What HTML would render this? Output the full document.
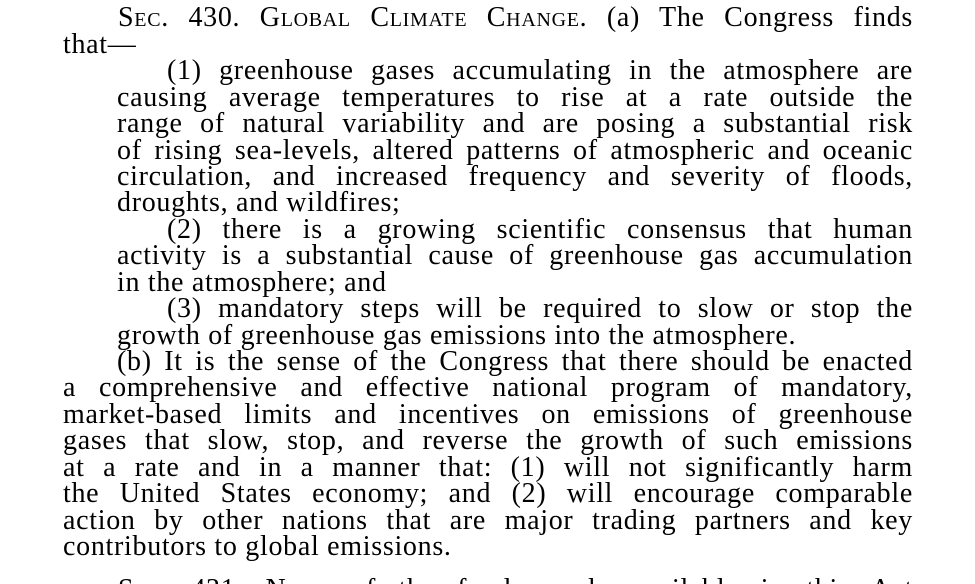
<!DOCTYPE html>
<html><head><meta charset="utf-8"><style>
html,body{margin:0;padding:0;background:#fff;width:975px;height:584px;overflow:hidden;}
body{position:relative;font-family:"Liberation Serif",serif;font-size:28px;letter-spacing:0.7px;color:#000;}
.l{position:absolute;right:62px;height:30px;line-height:30px;white-space:nowrap;text-align:justify;text-align-last:justify;}
.n{text-align-last:left;}
.sc{font-variant:small-caps;}
</style></head><body>
<div class="l" style="left:118px;top:3px">S<span class="sc">ec</span>. 430. G<span class="sc">lobal</span> C<span class="sc">limate</span> C<span class="sc">hange</span>. (a) The Congress finds</div>
<div class="l n" style="left:63px;top:30px">that—</div>
<div class="l" style="left:167px;top:56px">(1) greenhouse gases accumulating in the atmosphere are</div>
<div class="l" style="left:117px;top:83px">causing average temperatures to rise at a rate outside the</div>
<div class="l" style="left:117px;top:109px">range of natural variability and are posing a substantial risk</div>
<div class="l" style="left:117px;top:136px">of rising sea-levels, altered patterns of atmospheric and oceanic</div>
<div class="l" style="left:117px;top:162px">circulation, and increased frequency and severity of floods,</div>
<div class="l n" style="left:117px;top:188px">droughts, and wildfires;</div>
<div class="l" style="left:167px;top:215px">(2) there is a growing scientific consensus that human</div>
<div class="l" style="left:117px;top:241px">activity is a substantial cause of greenhouse gas accumulation</div>
<div class="l n" style="left:117px;top:268px">in the atmosphere; and</div>
<div class="l" style="left:167px;top:294px">(3) mandatory steps will be required to slow or stop the</div>
<div class="l n" style="left:117px;top:321px">growth of greenhouse gas emissions into the atmosphere.</div>
<div class="l" style="left:117px;top:347px">(b) It is the sense of the Congress that there should be enacted</div>
<div class="l" style="left:63px;top:373px">a comprehensive and effective national program of mandatory,</div>
<div class="l" style="left:63px;top:400px">market-based limits and incentives on emissions of greenhouse</div>
<div class="l" style="left:63px;top:426px">gases that slow, stop, and reverse the growth of such emissions</div>
<div class="l" style="left:63px;top:453px">at a rate and in a manner that: (1) will not significantly harm</div>
<div class="l" style="left:63px;top:479px">the United States economy; and (2) will encourage comparable</div>
<div class="l" style="left:63px;top:506px">action by other nations that are major trading partners and key</div>
<div class="l n" style="left:63px;top:532px">contributors to global emissions.</div>
<div class="l" style="left:118px;top:575px">S<span class="sc">ec</span>. 431. None of the funds made available in this Act</div>
</body></html>
